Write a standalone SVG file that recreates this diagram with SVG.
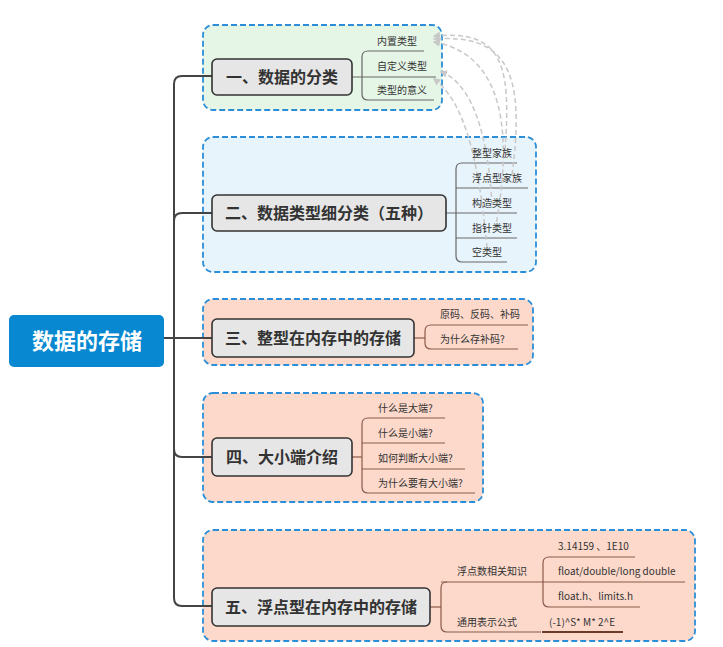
<svg xmlns="http://www.w3.org/2000/svg" width="723" height="647" viewBox="0 0 723 647">
<defs>
<style>
.sec{stroke:#2a8fd8;stroke-width:1.8;stroke-dasharray:6 3;}
.node{fill:#e6e6e6;stroke:#333;stroke-width:1.6;}
.nt{font-family:"Noto Sans CJK SC","Noto Sans",sans-serif;font-size:16px;font-weight:bold;fill:#333;text-anchor:middle;}
.ct{font-family:"Noto Sans CJK SC","Noto Sans",sans-serif;font-size:10px;fill:#333;}
.trunk{fill:none;stroke:#444;stroke-width:2;}
.g{fill:none;stroke:#666;stroke-width:1.2;}
.b{fill:none;stroke:#8a5a4b;stroke-width:1.2;}
.dash{fill:none;stroke:#c8c8c8;stroke-width:1.5;stroke-dasharray:5 3;marker-end:url(#arr);}
</style>
<marker id="arr" viewBox="0 0 10 10" refX="8" refY="5" markerWidth="5" markerHeight="5" orient="auto">
<path d="M0,0 L10,5 L0,10 z" fill="#c8c8c8"/>
</marker>
</defs>
<rect width="723" height="647" fill="#ffffff"/>

<rect class="sec" x="203" y="25" width="239" height="85" rx="10" fill="#e5f5e6"/>
<rect class="sec" x="203" y="137" width="333" height="135" rx="10" fill="#e8f4fb"/>
<rect class="sec" x="203" y="299" width="330" height="66" rx="10" fill="#fdd9cb"/>
<rect class="sec" x="203" y="393" width="280" height="109" rx="10" fill="#fdd9cb"/>
<rect class="sec" x="203" y="530" width="492" height="111" rx="10" fill="#fdd9cb"/>

<g id="connectors">
<path class="trunk" d="M164 338 H212"/>
<path class="trunk" d="M174 338 V84 Q174 76 182 76 H212"/>
<path class="trunk" d="M174 338 V598 Q174 606 182 606 H212"/>
<path class="trunk" d="M174 221 Q174 213 182 213 H212"/>
<path class="trunk" d="M174 449 Q174 457 182 457 H212"/>

<path class="g" d="M424 51 H368 Q362 51 362 57 V94 Q362 100 368 100 H434"/>
<path class="g" d="M352 77 H436"/>
<path class="g" d="M517 163 H462 Q456 163 456 169 V256 Q456 262 462 262 H507"/>
<path class="g" d="M446 213 H517"/>
<path class="g" d="M456 188 H528"/>
<path class="g" d="M456 238 H517"/>
<path class="b" d="M528 325 H431 Q425 325 425 331 V343 Q425 349 431 349 H518"/>
<path class="b" d="M414 338 H425"/>
<path class="b" d="M445 418 H368 Q362 418 362 424 V487 Q362 493 368 493 H475"/>
<path class="b" d="M362 443 H445"/>
<path class="b" d="M362 469 H465"/>
<path class="b" d="M352 457 H362"/>
<path class="b" d="M430 607 H441"/>
<path class="b" d="M447 582 Q441 582 441 588 V626 Q441 632 447 632 H541"/>
<path class="b" d="M441 582 H685"/>
<path class="b" d="M635 557 H549 Q543 557 543 563 V601 Q543 607 549 607 H640"/>
<path d="M542 632 H623" fill="none" stroke="#6b3b2a" stroke-width="2"/>

<path class="dash" d="M505 150 C512 60 500 30 434 36"/>
<path class="dash" d="M512 175 C526 70 506 34 434 39"/>
<path class="dash" d="M492 205 C488 130 470 82 441 72"/>
<path class="dash" d="M495 230 C518 110 492 52 434 42"/>
<path class="dash" d="M487 248 C478 150 462 100 434 79"/>
</g>

<g id="root">
<rect x="9" y="315" width="155" height="52" rx="5" fill="#0788d0"/>
<text x="87" y="349" font-family="'Noto Sans CJK SC','Noto Sans',sans-serif" font-size="22" font-weight="bold" fill="#ffffff" text-anchor="middle">数据的存储</text>
</g>

<g id="n1">
<rect class="node" x="212" y="59" width="140" height="36" rx="5"/>
<text class="nt" x="282" y="83">一、数据的分类</text>
</g>
<g id="n1a"><text class="ct" x="377" y="45">内置类型</text></g>
<g id="n1b"><text class="ct" x="377" y="70">自定义类型</text></g>
<g id="n1c"><text class="ct" x="377" y="94">类型的意义</text></g>

<g id="n2">
<rect class="node" x="212" y="195" width="234" height="36" rx="5"/>
<text class="nt" x="329" y="219">二、数据类型细分类（五种）</text>
</g>
<g id="n2a"><text class="ct" x="472" y="157">整型家族</text></g>
<g id="n2b"><text class="ct" x="472" y="182">浮点型家族</text></g>
<g id="n2c"><text class="ct" x="472" y="207">构造类型</text></g>
<g id="n2d"><text class="ct" x="472" y="232">指针类型</text></g>
<g id="n2e"><text class="ct" x="472" y="256">空类型</text></g>

<g id="n3">
<rect class="node" x="212" y="319" width="202" height="38" rx="5"/>
<text class="nt" x="313" y="344">三、整型在内存中的存储</text>
</g>
<g id="n3a"><text class="ct" x="440" y="318">原码、反码、补码</text></g>
<g id="n3b"><text class="ct" x="440" y="343">为什么存补码?</text></g>

<g id="n4">
<rect class="node" x="212" y="438" width="140" height="38" rx="5"/>
<text class="nt" x="282" y="463">四、大小端介绍</text>
</g>
<g id="n4a"><text class="ct" x="378" y="412">什么是大端?</text></g>
<g id="n4b"><text class="ct" x="378" y="437">什么是小端?</text></g>
<g id="n4c"><text class="ct" x="378" y="462">如何判断大小端?</text></g>
<g id="n4d"><text class="ct" x="378" y="487">为什么要有大小端?</text></g>

<g id="n5">
<rect class="node" x="212" y="588" width="218" height="38" rx="5"/>
<text class="nt" x="321" y="613">五、浮点型在内存中的存储</text>
</g>
<g id="n5a"><text class="ct" x="457" y="575">浮点数相关知识</text></g>
<g id="n5a1"><text class="ct" x="558" y="550">3.14159 、1E10</text></g>
<g id="n5a2"><text class="ct" x="558" y="575">float/double/long double</text></g>
<g id="n5a3"><text class="ct" x="558" y="600">float.h、limits.h</text></g>
<g id="n5b"><text class="ct" x="457" y="626">通用表示公式</text></g>
<g id="n5b1"><text class="ct" x="549" y="626">(-1)^S* M* 2^E</text></g>
</svg>
